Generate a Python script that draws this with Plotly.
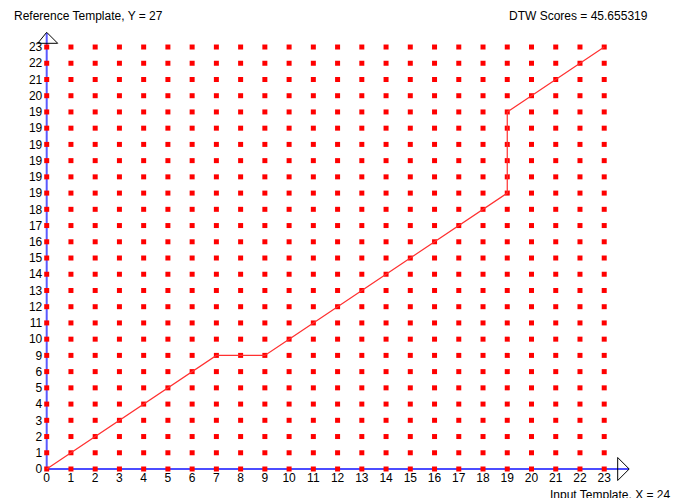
import plotly.graph_objects as go

# ---- data ----
x_labels = [str(i) for i in range(24)]
y_labels = ["0", "1", "2", "3", "4", "5", "6", "9", "10", "11", "12", "13", "14",
            "15", "16", "17", "18", "19", "19", "19", "19", "19", "19", "20", "21", "22", "23"]
# warping path: (input index, reference row index)
path_x = [0, 1, 2, 3, 4, 5, 6, 7, 8, 9, 10, 11, 12, 13, 14, 15, 16, 17, 18,
          19, 19, 19, 19, 19, 19, 20, 21, 22, 23]
path_y = [0, 1, 2, 3, 4, 5, 6, 7, 7, 7, 8, 9, 10, 11, 12, 13, 14, 15, 16,
          17, 18, 19, 20, 21, 22, 23, 24, 25, 26]
title_y = "Reference Template, Y = 27"
title_x = "Input Template, X = 24"
score_text = "DTW Scores = 45.655319"

W, H = 688, 498
ML, MR, MT, MB = 20, 40, 25, 10
PW, PH = W - ML - MR, H - MT - MB
X0_PX, Y0_PX = 46.7, 469.0        # pixel of origin
SX, SY = 24.24, 16.23             # pixels per unit

x0 = -(X0_PX - ML) / SX
x1 = x0 + PW / SX
y0 = -((H - MB) - Y0_PX) / SY
y1 = y0 + PH / SY


def px_x(p):
    return (p - ML) / PW


def px_y(p):
    return ((H - MB) - p) / PH


nx, ny = len(x_labels), len(y_labels)
gx = [i for j in range(ny) for i in range(nx)]
gy = [j for j in range(ny) for i in range(nx)]

fig = go.Figure()
fig.add_trace(go.Scatter(x=gx, y=gy, mode="markers",
                         marker=dict(symbol="square", size=5, color="#ff0000", line=dict(width=0)),
                         hoverinfo="skip", cliponaxis=False))
fig.add_trace(go.Scatter(x=path_x, y=path_y, mode="lines",
                         line=dict(color="#ff3030", width=1.2), hoverinfo="skip", cliponaxis=False))

font = dict(family="Liberation Sans, Arial, sans-serif", size=12, color="#000000")

# axis lines
fig.add_shape(type="line", x0=0, y0=0, x1=0, y1=(Y0_PX - 33) / SY,
              line=dict(color="#5a5aff", width=2), layer="below")
fig.add_shape(type="line", x0=0, y0=0, x1=(629 - X0_PX) / SX, y1=0,
              line=dict(color="#1010ff", width=1.5), layer="below")
# arrow heads (pixel-sized)
fig.add_shape(type="path", xref="x", yref="y", xsizemode="pixel", ysizemode="pixel",
              xanchor=0, yanchor=(Y0_PX - 43.3) / SY,
              path="M -9,0 L 0,11 L 11,0 Z", line=dict(color="#000000", width=1),
              fillcolor="rgba(0,0,0,0)")
fig.add_shape(type="path", xref="x", yref="y", xsizemode="pixel", ysizemode="pixel",
              xanchor=(617.7 - X0_PX) / SX, yanchor=0,
              path="M 0,-11.5 L 11.5,0 L 0,11.5 Z", line=dict(color="#000000", width=1),
              fillcolor="rgba(0,0,0,0)")

fig.add_annotation(text=title_y, xref="paper", yref="paper", x=px_x(12), y=px_y(16),
                   xanchor="left", yanchor="middle", showarrow=False, font=font)
fig.add_annotation(text=score_text, xref="paper", yref="paper", x=px_x(507), y=px_y(16),
                   xanchor="left", yanchor="middle", showarrow=False, font=font)
fig.add_annotation(text=title_x, xref="paper", yref="paper", x=px_x(548), y=px_y(495),
                   xanchor="left", yanchor="middle", showarrow=False, font=font)

fig.update_layout(
    template="none",
    width=W, height=H,
    margin=dict(l=ML, r=MR, t=MT, b=MB, pad=0, autoexpand=False),
    paper_bgcolor="white", plot_bgcolor="white",
    showlegend=False,
    xaxis=dict(range=[x0, x1], tickvals=list(range(nx)), ticktext=x_labels,
               showgrid=False, zeroline=False, showline=False, automargin=False,
               ticks="", tickfont=font, anchor="free", position=px_y(Y0_PX), fixedrange=True),
    yaxis=dict(range=[y0, y1], tickvals=list(range(ny)), ticktext=y_labels,
               showgrid=False, zeroline=False, showline=False, automargin=False,
               ticks="outside", ticklen=2, tickcolor="rgba(0,0,0,0)",
               tickfont=font, anchor="free", position=px_x(X0_PX), fixedrange=True),
)

fig.write_html("out.html", config={"displayModeBar": False},
               post_script="document.body.style.margin='0px';document.body.style.overflow='hidden';")
